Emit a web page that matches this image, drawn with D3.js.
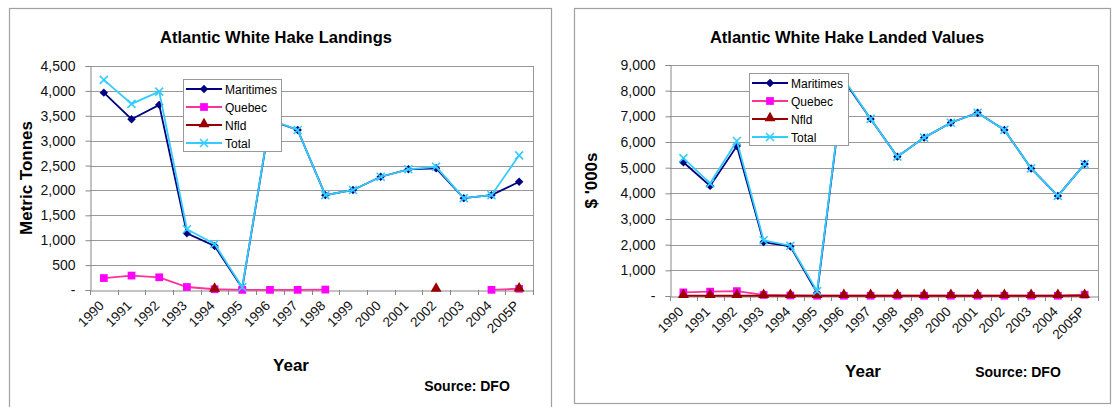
<!DOCTYPE html>
<html>
<head>
<meta charset="utf-8">
<script src="https://cdn.jsdelivr.net/npm/d3@7/dist/d3.min.js"></script>
<style>
  html, body { margin: 0; padding: 0; background: #ffffff; }
  svg { display: block; font-family: "Liberation Sans", Arial, sans-serif; }
</style>
</head>
<body>
<svg id="chart" width="1117" height="407"></svg>
<script>
// ---------- data ----------
const years = ["1990","1991","1992","1993","1994","1995","1996","1997","1998","1999","2000","2001","2002","2003","2004","2005P"];
const seriesNames = ["Maritimes","Quebec","Nfld","Total"];

// Landings (metric tonnes)
const landMaritimes = [3965, 3430, 3720, 1140, 885, 40, 3410, 3215, 1905, 2010, 2275, 2425, 2445, 1845, 1905, 2175];
const landQuebec    = [240, 290, 255, 60, 15, 3, 3, 3, 8, null, null, null, null, null, 3, 25];
const landNfld      = [null, null, null, null, 8, null, null, null, null, null, null, null, 8, null, null, 15];
const landTotal     = [4220, 3740, 3985, 1220, 925, 55, 3420, 3215, 1905, 2010, 2275, 2425, 2475, 1845, 1905, 2705];
const landTicks     = [0, 500, 1000, 1500, 2000, 2500, 3000, 3500, 4000, 4500];

// Landed values ($ '000s)
const valMaritimes = [5210, 4290, 5840, 2100, 1930, 120, 8400, 6900, 5430, 6170, 6750, 7140, 6470, 4970, 3900, 5140];
const valQuebec    = [140, 170, 190, 40, 20, 10, 10, 10, 10, 10, 10, 10, 10, 10, 10, 50];
const valNfld      = [10, 10, 10, 10, 10, 10, 10, 10, 10, 10, 10, 10, 10, 10, 10, 10];
const valTotal     = [5370, 4390, 6040, 2170, 1960, 190, 8450, 6900, 5430, 6170, 6750, 7140, 6470, 4970, 3900, 5140];
const valTicks     = [0, 1000, 2000, 3000, 4000, 5000, 6000, 7000, 8000, 9000];

// ---------- styling ----------
const styles = {
  Maritimes: { line: "#000080", fill: "#000080", marker: "diamond" },
  Quebec:    { line: "#FF3399", fill: "#FF00FF", marker: "square" },
  Nfld:      { line: "#990000", fill: "#990000", marker: "triangle" },
  Total:     { line: "#33CCFF", fill: "#33CCFF", marker: "x" }
};

const svg = d3.select("#chart");

function drawMarker(g, type, x, y, st) {
  if (type === "x") {
    const s = 4;
    g.append("path")
      .attr("d", `M${x - s},${y - s}L${x + s},${y + s}M${x - s},${y + s}L${x + s},${y - s}`)
      .attr("stroke", st.fill).attr("stroke-width", 1.6).attr("fill", "none");
  } else if (type === "diamond") {
    const s = 4.2;
    g.append("path")
      .attr("d", `M${x},${y - s}L${x + s},${y}L${x},${y + s}L${x - s},${y}Z`)
      .attr("fill", st.fill);
  } else {
    const sym = type === "square" ? d3.symbolSquare : d3.symbolTriangle;
    const size = type === "square" ? 60 : 52;
    g.append("path")
      .attr("d", d3.symbol().type(sym).size(size)())
      .attr("transform", `translate(${x},${y + (type === "triangle" ? -1 : 0)})`)
      .attr("fill", st.fill);
  }
}

function drawChart(cfg) {
  const g = svg.append("g");
  // panel frame
  g.append("rect")
    .attr("x", cfg.frame[0] + 0.5).attr("y", cfg.frame[1] + 0.5)
    .attr("width", cfg.frame[2]).attr("height", cfg.frame[3])
    .attr("fill", "#ffffff").attr("stroke", "#a0a0a0").attr("stroke-width", 1.2);

  const x = d3.scaleBand().domain(years).range([cfg.plot.x0, cfg.plot.x1]);
  const y = d3.scaleLinear().domain([0, cfg.ticks[cfg.ticks.length - 1]]).range([cfg.plot.y1, cfg.plot.y0]);

  // title
  g.append("text").attr("x", cfg.titleX).attr("y", 43)
    .attr("text-anchor", "middle").attr("font-size", 16.5).attr("font-weight", "bold")
    .attr("fill", "#000").text(cfg.title);

  // gridlines
  g.append("g").selectAll("line").data(cfg.ticks.slice(1)).join("line")
    .attr("x1", cfg.plot.x0).attr("x2", cfg.plot.x1)
    .attr("y1", d => Math.round(y(d)) + 0.5).attr("y2", d => Math.round(y(d)) + 0.5)
    .attr("stroke", "#999999").attr("stroke-width", 1);

  // plot border (right)
  g.append("line").attr("x1", cfg.plot.x1 + 0.5).attr("x2", cfg.plot.x1 + 0.5)
    .attr("y1", cfg.plot.y0).attr("y2", cfg.plot.y1).attr("stroke", "#999999");

  // y axis
  const yAxis = d3.axisLeft(y).tickValues(cfg.ticks).tickSize(5).tickPadding(10)
    .tickFormat(d => d === 0 ? "-" : d3.format(",")(d));
  const ya = g.append("g").attr("transform", `translate(${cfg.plot.x0 + 0.5},0)`).call(yAxis);
  ya.select(".domain").attr("stroke", "#888888");
  ya.selectAll(".tick line").attr("stroke", "#888888");
  ya.selectAll(".tick text").attr("font-size", 14).attr("fill", "#111")
    .attr("font-family", "Liberation Sans, Arial, sans-serif");

  // x axis
  const xAxis = d3.axisBottom(x).tickSize(0).tickFormat(d => d);
  const xa = g.append("g").attr("transform", `translate(0,${cfg.plot.y1 + 0.5})`).call(xAxis);
  xa.select(".domain").attr("stroke", "#888888");
  xa.selectAll(".tick text")
    .attr("font-size", 13.5).attr("fill", "#111")
    .attr("font-family", "Liberation Sans, Arial, sans-serif")
    .attr("text-anchor", "end")
    .attr("dy", null).attr("y", 0)
    .attr("transform", `translate(1,16) rotate(-45)`);
  // category boundary ticks
  g.append("g").selectAll("line").data(years.concat(["end"])).join("line")
    .attr("x1", (d, i) => Math.round(cfg.plot.x0 + i * x.bandwidth()) + 0.5)
    .attr("x2", (d, i) => Math.round(cfg.plot.x0 + i * x.bandwidth()) + 0.5)
    .attr("y1", cfg.plot.y1).attr("y2", cfg.plot.y1 + 5)
    .attr("stroke", "#888888");

  // axis titles
  g.append("text")
    .attr("transform", `translate(${cfg.yTitleX},${(cfg.plot.y0 + cfg.plot.y1) / 2}) rotate(-90)`)
    .attr("text-anchor", "middle").attr("font-size", 17).attr("font-weight", "bold").text(cfg.yTitle);
  g.append("text").attr("x", cfg.yearX).attr("y", cfg.yearY)
    .attr("text-anchor", "middle").attr("font-size", 17).attr("font-weight", "bold").text("Year");
  g.append("text").attr("x", cfg.srcX).attr("y", cfg.srcY)
    .attr("text-anchor", "middle").attr("font-size", 14).attr("font-weight", "bold").text("Source: DFO");

  // series
  const cx = d => x(d) + x.bandwidth() / 2;
  seriesNames.forEach((name, si) => {
    const vals = cfg.series[si];
    const st = styles[name];
    const pts = years.map((yr, i) => ({ yr, v: vals[i] }));
    const line = d3.line().defined(d => d.v != null).x(d => cx(d.yr)).y(d => y(d.v));
    g.append("path").datum(pts).attr("d", line)
      .attr("fill", "none").attr("stroke", st.line).attr("stroke-width", 1.8);
    const mg = g.append("g");
    pts.filter(d => d.v != null).forEach(d => drawMarker(mg, st.marker, cx(d.yr), y(d.v), st));
  });

  // legend
  const L = cfg.legend;
  const lg = g.append("g");
  lg.append("rect").attr("x", L.x + 0.5).attr("y", L.y + 0.5).attr("width", L.w).attr("height", L.h)
    .attr("fill", "#ffffff").attr("stroke", "#999999");
  seriesNames.forEach((name, i) => {
    const st = styles[name];
    const yy = L.y + 10 + i * 18;
    lg.append("line").attr("x1", L.x + 3).attr("x2", L.x + 39).attr("y1", yy).attr("y2", yy)
      .attr("stroke", st.line).attr("stroke-width", 1.8);
    drawMarker(lg, st.marker, L.x + 21, yy, st);
    lg.append("text").attr("x", L.x + 42).attr("y", yy + 4.5).attr("font-size", 12).attr("fill", "#000").text(name);
  });
}

drawChart({
  frame: [9, 8, 542, 410],
  plot: { x0: 90, x1: 533, y0: 66, y1: 290 },
  ticks: landTicks,
  title: "Atlantic White Hake Landings", titleX: 276,
  yTitle: "Metric Tonnes", yTitleX: 32,
  yearX: 291, yearY: 371, srcX: 467, srcY: 391,
  series: [landMaritimes, landQuebec, landNfld, landTotal],
  legend: { x: 183, y: 79, w: 98, h: 72 }
});

drawChart({
  frame: [574, 8, 536, 395],
  plot: { x0: 670, x1: 1098, y0: 65, y1: 296 },
  ticks: valTicks,
  title: "Atlantic White Hake Landed Values", titleX: 847,
  yTitle: "$ '000s", yTitleX: 597,
  yearX: 863, yearY: 377, srcX: 1018, srcY: 377,
  series: [valMaritimes, valQuebec, valNfld, valTotal],
  legend: { x: 749, y: 73, w: 99, h: 72 }
});
</script>
</body>
</html>
